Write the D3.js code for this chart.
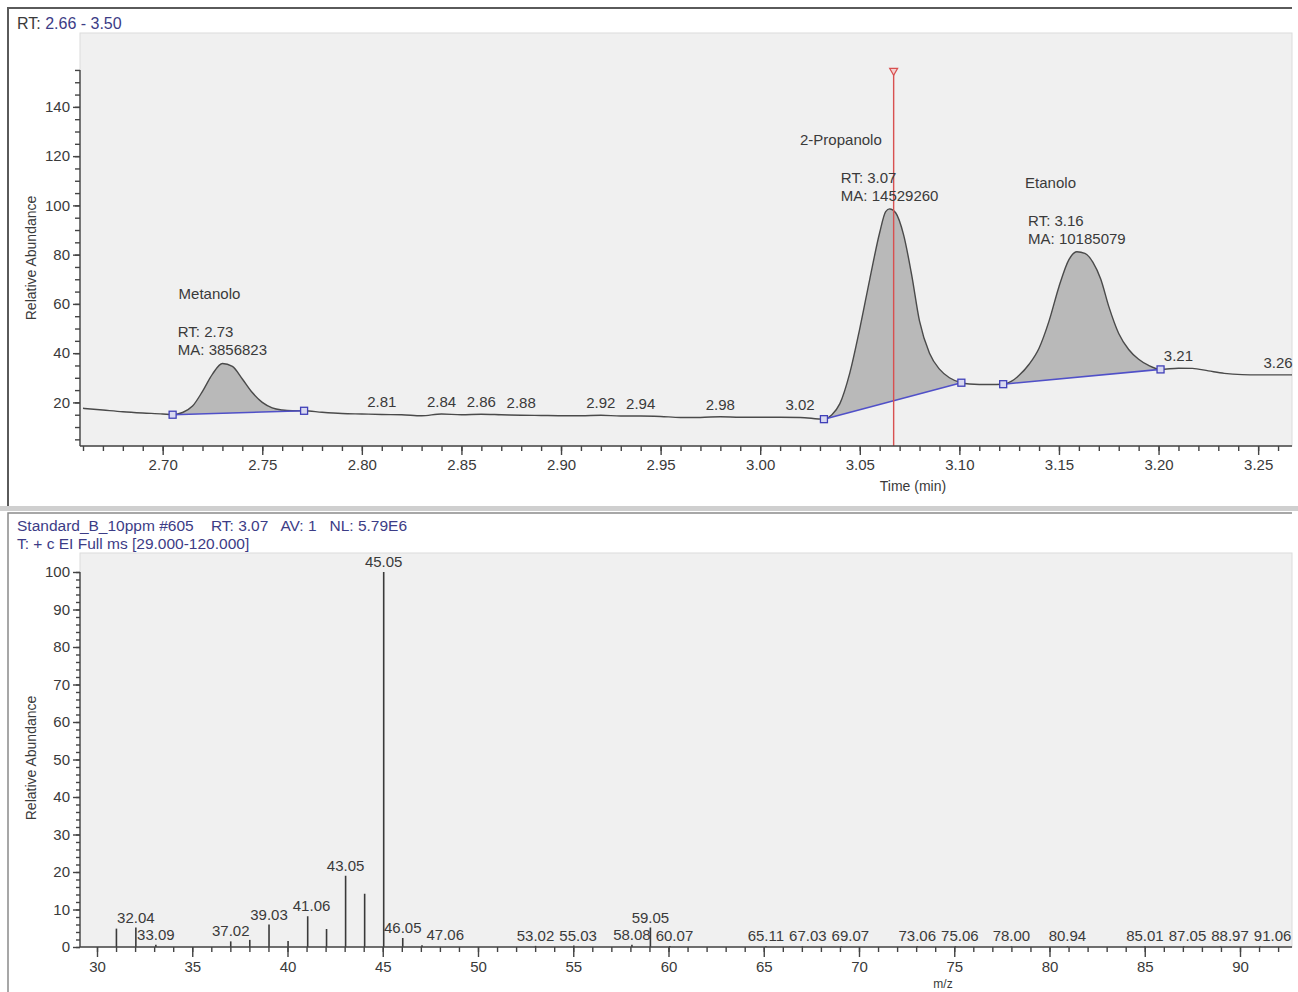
<!DOCTYPE html>
<html>
<head>
<meta charset="utf-8">
<script src="https://cdn.jsdelivr.net/npm/d3@7/dist/d3.min.js"></script>
<style>
  body { margin: 0; background: #fff; }
  svg { display: block; font-family: "Liberation Sans", Arial, sans-serif; }
  text { fill: #3a3a3a; }
</style>
</head>
<body>
<svg width="1298" height="992"></svg>
<script>
// chromatogram trace (RT in min, relative abundance)
const traceRT = [2.660, 2.670, 2.680, 2.690, 2.700, 2.705, 2.710, 2.715, 2.720, 2.725, 2.730, 2.735, 2.740, 2.745, 2.750, 2.755, 2.760, 2.765, 2.771, 2.780,
  2.790, 2.800, 2.810, 2.820, 2.830, 2.840, 2.850, 2.860, 2.870, 2.880, 2.890, 2.900, 2.910, 2.920, 2.930, 2.940, 2.950, 2.960, 2.970, 2.980,
  2.990, 3.000, 3.010, 3.020, 3.032, 3.036, 3.040, 3.045, 3.050, 3.055, 3.060, 3.063, 3.065, 3.068, 3.072, 3.076, 3.080, 3.085, 3.090, 3.095,
  3.101, 3.105, 3.110, 3.115, 3.122, 3.126, 3.130, 3.135, 3.140, 3.145, 3.150, 3.155, 3.159, 3.163, 3.167, 3.171, 3.175, 3.180, 3.185, 3.190,
  3.195, 3.201, 3.210, 3.217, 3.225, 3.233, 3.242, 3.250, 3.260, 3.270];
const traceAb = [17.6, 16.9, 16.2, 15.7, 15.3, 15.0, 15.9, 18.5, 24.5, 31.5, 35.8, 34.6, 29.5, 24.0, 20.0, 17.8, 16.9, 16.6, 16.6, 16.0,
  15.5, 15.3, 15.1, 15.0, 14.6, 15.3, 15.0, 15.2, 15.0, 14.8, 14.7, 14.6, 14.6, 14.8, 14.5, 14.5, 14.3, 13.9, 13.9, 14.2,
  14.0, 14.0, 14.0, 13.9, 13.2, 15.0, 19.5, 32, 50, 70, 89, 97.5, 98.6, 97, 88, 72, 53, 40, 33.5, 30,
  28.0, 27.5, 27.3, 27.3, 27.4, 28.5, 31, 35.5, 42, 53, 67, 78, 81.2, 80.5, 77, 70, 59, 48, 41.5, 37.5,
  35, 33.4, 33.9, 33.8, 32.8, 31.8, 31.3, 31.2, 31.2, 31.2];

// integrated peaks
const peakNames = ['Metanolo', '2-Propanolo', 'Etanolo'];
const peakRT = ['2.73', '3.07', '3.16'];
const peakApex = [2.730, 3.065, 3.159];
const peakMA = ['3856823', '14529260', '10185079'];
const peakStart = [2.705, 3.032, 3.122];
const peakStartAb = [15.0, 13.2, 27.4];
const peakEnd = [2.771, 3.101, 3.201];
const peakEndAb = [16.6, 28.0, 33.4];
const nameRT = [2.708, 3.020, 3.133];

// retention time labels along the baseline
const rtLabels = [2.81, 2.84, 2.86, 2.88, 2.92, 2.94, 2.98, 3.02, 3.21, 3.26];
const cursorRT = 3.067;

// mass spectrum at RT 3.07
const specMz = [31.02, 32.04, 33.09, 37.02, 38.02, 39.03, 40.03, 41.06, 42.05, 43.05, 44.05, 45.05, 46.05, 47.06, 53.02, 55.03, 58.08,
  59.05, 60.07, 65.11, 67.03, 69.07, 73.06, 75.06, 78.00, 80.94, 85.01, 87.05, 88.97, 91.06];
const specInt = [4.9, 5.2, 0.6, 1.5, 1.9, 6.0, 1.6, 8.2, 4.8, 19.0, 14.2, 100, 2.4, 0.5, 0.3, 0.4, 0.6,
  5.2, 0.3, 0.2, 0.2, 0.2, 0.2, 0.2, 0.2, 0.2, 0.2, 0.2, 0.2, 0.2];
const specLabels = ['32.04', '33.09', '37.02', '39.03', '41.06', '43.05', '45.05', '46.05', '47.06', '53.02', '55.03', '58.08',
  '59.05', '60.07', '65.11', '67.03', '69.07', '73.06', '75.06', '78.00', '80.94', '85.01', '87.05', '88.97', '91.06'];

const svg = d3.select('svg');
const W = 1298;

// ---------- frames ----------
svg.append('path').attr('d', 'M8,506V8H1292').attr('fill', 'none').attr('stroke', '#5a5a5a').attr('stroke-width', 2);
svg.append('rect').attr('x', 0).attr('y', 506).attr('width', W).attr('height', 5).attr('fill', '#cfcfcf');
svg.append('path').attr('d', 'M8,992V513H1292').attr('fill', 'none').attr('stroke', '#8a8a8a').attr('stroke-width', 1.5);

// ---------- top panel: chromatogram ----------
const pT = { l: 80, r: 1292, t: 33, b: 446 };
const xT = d3.scaleLinear().domain([2.66, 3.267]).range([83, 1292]);
const yT = d3.scaleLinear().domain([2.3, 170]).range([pT.b, pT.t]);

svg.append('rect').attr('x', pT.l).attr('y', pT.t).attr('width', pT.r - pT.l).attr('height', pT.b - pT.t)
  .attr('fill', '#f0f0f0').attr('stroke', '#dcdcdc');

svg.append('clipPath').attr('id', 'clipT').append('rect')
  .attr('x', pT.l).attr('y', pT.t).attr('width', pT.r - pT.l).attr('height', pT.b - pT.t);

const gT = svg.append('g').attr('clip-path', 'url(#clipT)');

const tracePts = traceRT.map((t, i) => [t, traceAb[i]]);
const interpAb = t => {
  const i = d3.bisectLeft(traceRT, t);
  if (i <= 0) return traceAb[0];
  if (i >= traceRT.length) return traceAb[traceAb.length - 1];
  const f = (t - traceRT[i - 1]) / (traceRT[i] - traceRT[i - 1]);
  return traceAb[i - 1] + f * (traceAb[i] - traceAb[i - 1]);
};

// peak fills
peakNames.forEach((n, k) => {
  const pts = tracePts.filter(p => p[0] >= peakStart[k] - 1e-9 && p[0] <= peakEnd[k] + 1e-9);
  const base = t => peakStartAb[k] + (t - peakStart[k]) / (peakEnd[k] - peakStart[k]) * (peakEndAb[k] - peakStartAb[k]);
  const area = d3.area()
    .x(p => xT(p[0]))
    .y0(p => yT(base(p[0])))
    .y1(p => yT(p[1]))
    .curve(d3.curveMonotoneX);
  gT.append('path').attr('d', area(pts)).attr('fill', '#b9b9b9');
});

// trace line
gT.append('path')
  .attr('d', d3.line().x(p => xT(p[0])).y(p => yT(p[1])).curve(d3.curveMonotoneX)(tracePts))
  .attr('fill', 'none').attr('stroke', '#4a4a4a').attr('stroke-width', 1.4);

// baselines with markers
peakNames.forEach((n, k) => {
  gT.append('line')
    .attr('x1', xT(peakStart[k])).attr('y1', yT(peakStartAb[k]))
    .attr('x2', xT(peakEnd[k])).attr('y2', yT(peakEndAb[k]))
    .attr('stroke', '#5050c8').attr('stroke-width', 1.6);
  [[peakStart[k], peakStartAb[k]], [peakEnd[k], peakEndAb[k]]].forEach(p => {
    gT.append('rect').attr('x', xT(p[0]) - 3.5).attr('y', yT(p[1]) - 3.5).attr('width', 7).attr('height', 7)
      .attr('fill', '#d8d8f0').attr('stroke', '#4040b8').attr('stroke-width', 1.3);
  });
});

// cursor
gT.append('line').attr('x1', xT(cursorRT)).attr('x2', xT(cursorRT)).attr('y1', yT(154)).attr('y2', pT.b)
  .attr('stroke', '#d85050').attr('stroke-width', 1.4);
gT.append('path')
  .attr('d', `M${xT(cursorRT) - 4},${yT(154) - 4}L${xT(cursorRT) + 4},${yT(154) - 4}L${xT(cursorRT)},${yT(154) + 3}Z`)
  .attr('fill', '#f4d0d0').attr('stroke', '#d85050').attr('stroke-width', 1.2);

// rt labels
svg.append('g').selectAll('text').data(rtLabels).join('text')
  .attr('x', d => xT(d)).attr('y', d => yT(interpAb(d)) - 7)
  .attr('text-anchor', 'middle').attr('font-size', 15)
  .text(d => d.toFixed(2));

// peak annotations
peakNames.forEach((n, k) => {
  const ax = xT(peakApex[k]);
  const maY = yT(interpAb(peakApex[k])) - 8;
  const g = svg.append('g').attr('font-size', 15);
  const t1 = g.append('text').attr('y', maY - 18).text(`RT: ${peakRT[k]}`);
  const t2 = g.append('text').attr('y', maY).text(`MA: ${peakMA[k]}`);
  const w = Math.max(t1.node().getComputedTextLength(), t2.node().getComputedTextLength());
  t1.attr('x', ax - w / 2);
  t2.attr('x', ax - w / 2);
  g.append('text').attr('x', xT(nameRT[k])).attr('y', maY - 56).text(n);
});

// top axes
const xMajT = d3.range(266, 327).filter(i => i % 5 === 0).map(i => i / 100);
const xMinT = d3.range(266, 327).map(i => i / 100);
const axB = svg.append('g').attr('transform', `translate(0,${pT.b})`);
axB.append('g').call(d3.axisBottom(xT).tickValues(xMinT).tickSize(5).tickFormat(''))
  .call(g => g.select('.domain').remove());
axB.append('g').call(d3.axisBottom(xT).tickValues(xMajT).tickSize(9).tickPadding(1).tickFormat(d3.format('.2f')))
  .call(g => g.select('.domain').remove());
axB.append('line').attr('x1', pT.l).attr('x2', pT.r).attr('y1', 0).attr('y2', 0);
axB.selectAll('line').attr('stroke', '#444').attr('stroke-width', 1.4);
axB.selectAll('text').attr('font-size', 15).attr('font-family', null).attr('fill', '#444').attr('dy', '0.95em');

const axL = svg.append('g').attr('transform', `translate(${pT.l},0)`);
axL.append('g').call(d3.axisLeft(yT).tickValues(d3.range(5, 160, 5)).tickSize(5).tickFormat(''))
  .call(g => g.select('.domain').remove());
axL.append('g').call(d3.axisLeft(yT).tickValues(d3.range(20, 160, 20)).tickSize(7))
  .call(g => g.select('.domain').remove());
axL.append('line').attr('x1', 0).attr('x2', 0).attr('y1', yT(155)).attr('y2', pT.b);
axL.selectAll('line').attr('stroke', '#444').attr('stroke-width', 1.4);
axL.selectAll('text').attr('font-size', 15).attr('font-family', null).attr('fill', '#444');

svg.append('text').attr('x', 913).attr('y', 491).attr('text-anchor', 'middle').attr('font-size', 14).text('Time (min)');
svg.append('text').attr('transform', 'translate(36,258) rotate(-90)').attr('text-anchor', 'middle')
  .attr('font-size', 14).text('Relative Abundance');

const hdrT = svg.append('text').attr('x', 17).attr('y', 29).attr('font-size', 16);
hdrT.append('tspan').text('RT: ');
hdrT.append('tspan').style('fill', '#3c3c86').text('2.66 - 3.50');

// ---------- bottom panel: mass spectrum ----------
const pB = { l: 80, r: 1292, t: 553, b: 947 };
const xB = d3.scaleLinear().domain([30, 90]).range([97, 1240]);
const yB = d3.scaleLinear().domain([0, 100]).range([pB.b, 572]);

svg.append('rect').attr('x', pB.l).attr('y', pB.t).attr('width', pB.r - pB.l).attr('height', pB.b - pB.t)
  .attr('fill', '#f0f0f0').attr('stroke', '#dcdcdc');

svg.append('g').selectAll('line').data(specMz).join('line')
  .attr('x1', d => xB(d)).attr('x2', d => xB(d))
  .attr('y1', yB(0)).attr('y2', (d, i) => yB(specInt[i]))
  .attr('stroke', '#3a3a3a').attr('stroke-width', 1.6);

// stick labels, pushed right when they would collide
const lblG = svg.append('g').attr('font-size', 15);
const placed = [];
specLabels.forEach(s => {
  const mz = +s;
  const inten = specInt[specMz.indexOf(mz)];
  const y = yB(inten) - 5;
  const t = lblG.append('text').attr('y', y).attr('text-anchor', 'middle').text(s);
  const w = t.node().getComputedTextLength();
  let cx = xB(mz);
  placed.forEach(p => {
    if (Math.abs(p.y - y) < 13 && cx - w / 2 < p.x + p.w / 2 + 5) cx = p.x + p.w / 2 + 5 + w / 2;
  });
  t.attr('x', cx);
  placed.push({ x: cx, y: y, w: w });
});

const xMajB = d3.range(30, 93, 5);
const xMinB = d3.range(30, 93);
const axB2 = svg.append('g').attr('transform', `translate(0,${pB.b})`);
axB2.append('g').call(d3.axisBottom(xB).tickValues(xMinB).tickSize(5).tickFormat(''))
  .call(g => g.select('.domain').remove());
axB2.append('g').call(d3.axisBottom(xB).tickValues(xMajB).tickSize(10).tickPadding(1))
  .call(g => g.select('.domain').remove());
axB2.append('line').attr('x1', pB.l).attr('x2', pB.r).attr('y1', 0).attr('y2', 0);
axB2.selectAll('line').attr('stroke', '#444').attr('stroke-width', 1.4);
axB2.selectAll('text').attr('font-size', 15).attr('font-family', null).attr('fill', '#444').attr('dy', '0.95em');

const axL2 = svg.append('g').attr('transform', `translate(${pB.l},0)`);
axL2.append('g').call(d3.axisLeft(yB).tickValues(d3.range(0, 101, 2)).tickSize(4).tickFormat(''))
  .call(g => g.select('.domain').remove());
axL2.append('g').call(d3.axisLeft(yB).tickValues(d3.range(0, 101, 10)).tickSize(7))
  .call(g => g.select('.domain').remove());
axL2.append('line').attr('x1', 0).attr('x2', 0).attr('y1', yB(100)).attr('y2', pB.b);
axL2.selectAll('line').attr('stroke', '#444').attr('stroke-width', 1.4);
axL2.selectAll('text').attr('font-size', 15).attr('font-family', null).attr('fill', '#444');

svg.append('text').attr('x', 943).attr('y', 988).attr('text-anchor', 'middle').attr('font-size', 12).text('m/z');
svg.append('text').attr('transform', 'translate(36,758) rotate(-90)').attr('text-anchor', 'middle')
  .attr('font-size', 14).text('Relative Abundance');

svg.append('text').attr('x', 17).attr('y', 531).attr('font-size', 15.5).attr('xml:space', 'preserve')
  .style('fill', '#3c3c86').text('Standard_B_10ppm #605    RT: 3.07   AV: 1   NL: 5.79E6');
svg.append('text').attr('x', 17).attr('y', 549).attr('font-size', 15.5).attr('xml:space', 'preserve')
  .style('fill', '#3c3c86').text('T: + c EI Full ms [29.000-120.000]');
</script>
</body>
</html>
